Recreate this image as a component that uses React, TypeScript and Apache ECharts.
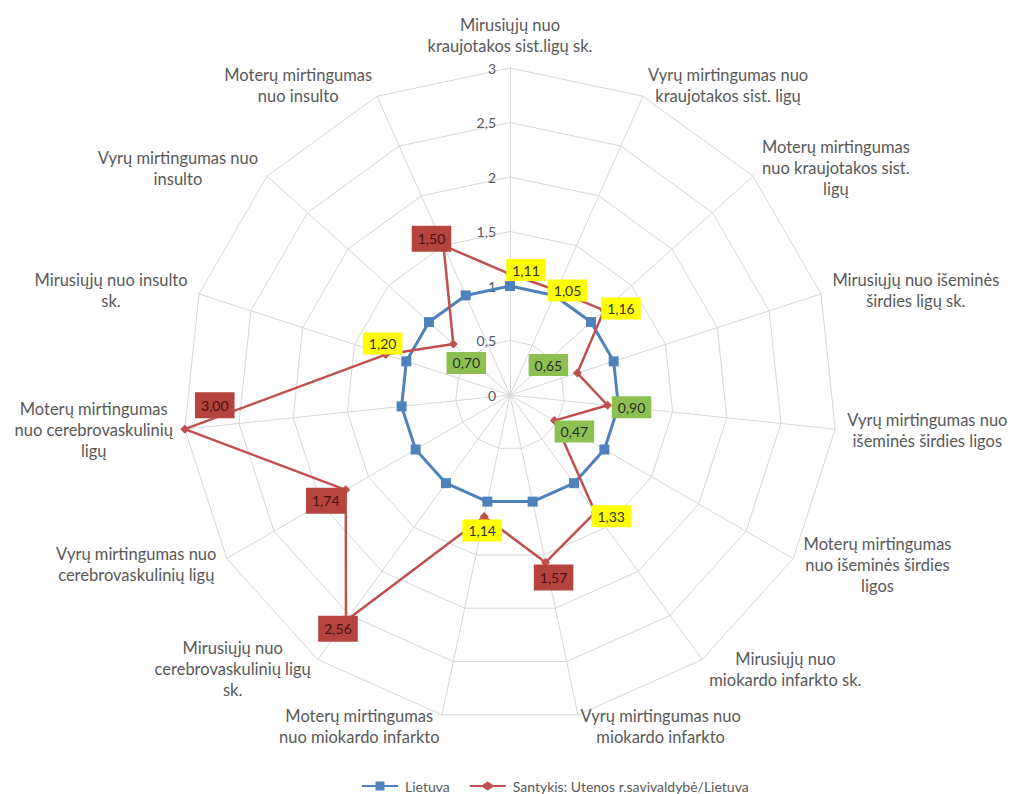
import React, { useEffect, useRef } from "react";
import * as echarts from "echarts";

// Indicators in clockwise order starting from the top
const indicatorNames: string[] = [
  "Mirusiųjų nuo\nkraujotakos sist.ligų sk.",
  "Vyrų mirtingumas nuo\nkraujotakos sist. ligų",
  "Moterų mirtingumas\nnuo kraujotakos sist.\nligų",
  "Mirusiųjų nuo išeminės\nširdies ligų sk.",
  "Vyrų mirtingumas nuo\nišeminės širdies ligos",
  "Moterų mirtingumas\nnuo išeminės širdies\nligos",
  "Mirusiųjų nuo\nmiokardo infarkto sk.",
  "Vyrų mirtingumas nuo\nmiokardo infarkto",
  "Moterų mirtingumas\nnuo miokardo infarkto",
  "Mirusiųjų nuo\ncerebrovaskulinių ligų\nsk.",
  "Vyrų mirtingumas nuo\ncerebrovaskulinių ligų",
  "Moterų mirtingumas\nnuo cerebrovaskulinių\nligų",
  "Mirusiųjų nuo insulto\nsk.",
  "Vyrų mirtingumas nuo\ninsulto",
  "Moterų mirtingumas\nnuo insulto",
];

const seriesNames = ["Lietuva", "Santykis: Utenos r.savivaldybė/Lietuva"];

const lietuva: number[] = [1, 1, 1, 1, 1, 1, 1, 1, 1, 1, 1, 1, 1, 1, 1];
const santykis: number[] = [1.11, 1.05, 1.16, 0.65, 0.9, 0.47, 1.33, 1.57, 1.14, 2.56, 1.74, 3.0, 1.2, 0.7, 1.5];

const axisMin = 0;
const axisMax = 3;
const axisInterval = 0.5;

// Style: where each data label sits relative to its point (px)
const labelOffsets: number[][] = [
  [16, -4], [11, 0], [17, -2], [-29, -8], [24, 2], [20, 11], [16, 4], [8, 15],
  [-2, 14], [-8, 8], [-20, 11], [30, -24], [-3, -11], [13, 19], [-12, -7],
];

const FONT = "Lato, 'Open Sans', sans-serif";
const TEXT = "#595959";
const BLUE = "#4F81BD";
const RED = "#C0504D";

const fmt = (v: number) => v.toFixed(2).replace(".", ",");
const boxStyle = (v: number) => (v < 1 ? "g" : v < 1.5 ? "y" : "r");

// ECharts radar runs counter-clockwise; map to clockwise order
const order = indicatorNames.map((_, j) => (j === 0 ? 0 : indicatorNames.length - j));
const reorder = (arr: number[]) => order.map((i) => arr[i]);

export default function App() {
  const ref = useRef<HTMLDivElement>(null);
  useEffect(() => {
    document.body.style.margin = "0";
    const chart = echarts.init(ref.current!, null, { renderer: "svg" });

    const indicator = order.map((i, j) => {
      const o: any = { name: indicatorNames[i], min: axisMin, max: axisMax };
      if (j === 0) o.axisLabel = { show: true };
      return o;
    });

    const labelSeries = santykis.map((val, k) => ({
      type: "radar",
      silent: true,
      symbol: "circle",
      symbolSize: 1,
      itemStyle: { color: "rgba(0,0,0,0)" },
      lineStyle: { width: 0, opacity: 0 },
      z: 5,
      data: [
        {
          name: "lbl" + k,
          value: reorder(santykis),
          label: {
            show: true,
            position: "inside",
            offset: labelOffsets[k],
            formatter: (p: any) => (p.value === val ? `{${boxStyle(val)}|${fmt(val)}}` : ""),
            rich: {
              y: { backgroundColor: "#FFFF00", color: "#333", padding: [4, 6], fontSize: 14, fontFamily: FONT },
              g: { backgroundColor: "#8CC152", color: "#2b2b2b", padding: [4, 6], fontSize: 14, fontFamily: FONT },
              r: { backgroundColor: "#B5433E", color: "#4a1212", padding: [6, 6], fontSize: 14, fontFamily: FONT },
            },
          },
        },
      ],
    }));

    chart.setOption({
      animation: false,
      backgroundColor: "#fff",
      legend: {
        data: [
          { name: seriesNames[0], icon: "path://M0,4H15V0H25V4H40V6H25V10H15V6H0Z" },
          { name: seriesNames[1], icon: "path://M0,4H14L20,0L26,4H40V6H26L20,10L14,6H0Z" },
        ],
        left: 357,
        bottom: -4,
        itemWidth: 40,
        itemHeight: 9,
        itemGap: 20,
        textStyle: { color: TEXT, fontSize: 14, fontFamily: FONT },
      },
      radar: {
        center: [510, 395],
        radius: 327,
        shape: "polygon",
        splitNumber: (axisMax - axisMin) / axisInterval,
        indicator,
        axisNameGap: 12,
        nameGap: 12,
        axisName: {
          color: TEXT,
          fontSize: 16.5,
          fontFamily: FONT,
          lineHeight: 21,
          formatter: (name: string) =>
            name.split("\n").map((l) => `{c|${l}}`).join("\n"),
          rich: { c: { align: "center", color: TEXT, fontSize: 16.5, fontFamily: FONT, lineHeight: 21 } },
        },
        axisLine: { lineStyle: { color: "#d6d6d6", width: 1 } },
        splitLine: { lineStyle: { color: "#d6d6d6", width: 1 } },
        splitArea: { show: false },
        axisTick: { show: false },
        axisLabel: {
          show: false,
          margin: 14,
          color: TEXT,
          fontSize: 14,
          fontFamily: FONT,
          formatter: (v: number) => String(v).replace(".", ","),
        },
      },
      series: [
        {
          type: "radar",
          z: 3,
          symbol: "rect",
          symbolSize: 10,
          data: [
            {
              name: seriesNames[0],
              value: reorder(lietuva),
              itemStyle: { color: BLUE },
              lineStyle: { color: BLUE, width: 3 },
            },
          ],
        },
        {
          type: "radar",
          z: 4,
          symbol: "diamond",
          symbolSize: 9,
          data: [
            {
              name: seriesNames[1],
              value: reorder(santykis),
              itemStyle: { color: RED },
              lineStyle: { color: RED, width: 2.5 },
            },
          ],
        },
        ...labelSeries,
      ],
    });
    return () => chart.dispose();
  }, []);
  return <div ref={ref} style={{ width: 1014, height: 794 }} />;
}
